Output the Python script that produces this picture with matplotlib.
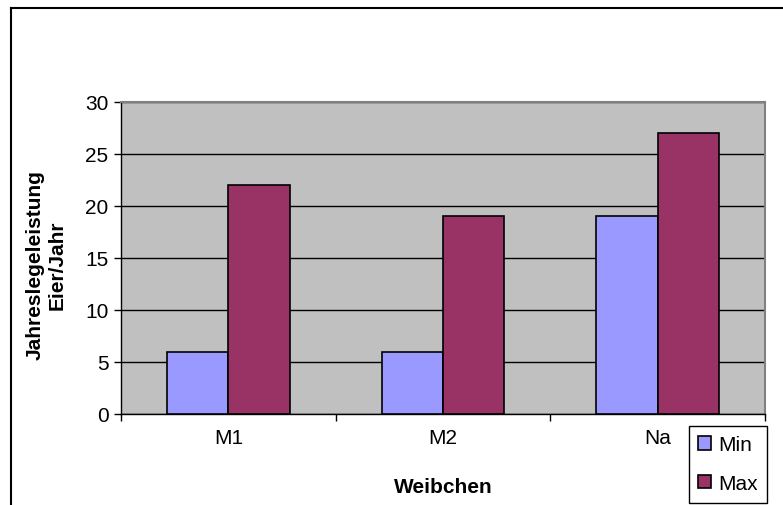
import matplotlib
matplotlib.use('Agg')
import matplotlib.pyplot as plt
import numpy as np
from matplotlib.lines import Line2D

plt.rcParams['font.family'] = ['Liberation Sans', 'DejaVu Sans']
plt.rcParams['font.size'] = 15

# data
categories = ['M1', 'M2', 'Na']
min_vals = [6, 6, 19]
max_vals = [22, 19, 27]
series_labels = ['Min', 'Max']
yticks = [0, 5, 10, 15, 20, 25, 30]

W, H = 783, 506
fig = plt.figure(figsize=(W / 100, H / 100), dpi=100)
ax = fig.add_axes([121 / W, 1 - 415 / H, (765 - 121) / W, (415 - 103) / H])

x = np.arange(len(categories))
bw = 1 / 3.5  # gap width 150%
ax.bar(x - bw / 2, min_vals, bw, color='#9999FF', edgecolor='black', linewidth=1.2,
       label=series_labels[0], zorder=3)
ax.bar(x + bw / 2, max_vals, bw, color='#993366', edgecolor='black', linewidth=1.2,
       label=series_labels[1], zorder=3)

ax.set_facecolor('#C0C0C0')
ax.set_xlim(-0.5, len(categories) - 0.5)
ax.set_ylim(0, 30)
ax.set_yticks(yticks)
ax.yaxis.grid(True, color='black', linewidth=1, zorder=1)
ax.set_axisbelow(True)

# category ticks sit on the boundaries
ax.set_xticks(np.arange(len(categories) + 1) - 0.5, minor=False)
ax.set_xticklabels([''] * (len(categories) + 1))
ax.set_xticks(x, minor=True)
ax.set_xticklabels(categories, minor=True)
ax.tick_params(axis='x', which='minor', length=0, pad=10, labelsize=15)
ax.tick_params(axis='x', which='major', length=5, width=1, direction='out')
ax.tick_params(axis='y', length=5, width=1, direction='out', pad=4, labelsize=15)

for s in ('top', 'right'):
    ax.spines[s].set_color('#808080')
    ax.spines[s].set_linewidth(1.5)
for s in ('left', 'bottom'):
    ax.spines[s].set_color('black')
    ax.spines[s].set_linewidth(1)

ax.set_xlabel('Weibchen', fontweight='bold', fontsize=15, labelpad=22)
ax.set_ylabel('Jahreslegeleistung\nEier/Jahr', fontweight='bold', fontsize=15,
              labelpad=14, linespacing=1.15)
ax.yaxis.set_label_coords(-0.085, 0.48)

fig.legend(loc='upper left', bbox_to_anchor=(689 / W, 1 - 427 / H),
           frameon=True, fancybox=False, edgecolor='black', framealpha=1,
           handlelength=0.6, handleheight=0.6, handletextpad=0.35,
           labelspacing=0.95, borderpad=0.45, borderaxespad=0, fontsize=15)

# outer chart frame
fig.add_artist(Line2D([11 / W, 1], [1 - 9 / H, 1 - 9 / H], color='black', lw=1.5,
                      transform=fig.transFigure))
fig.add_artist(Line2D([11 / W, 11 / W], [0, 1 - 9 / H], color='black', lw=1.5,
                      transform=fig.transFigure))

fig.savefig('out.png', dpi=100)
